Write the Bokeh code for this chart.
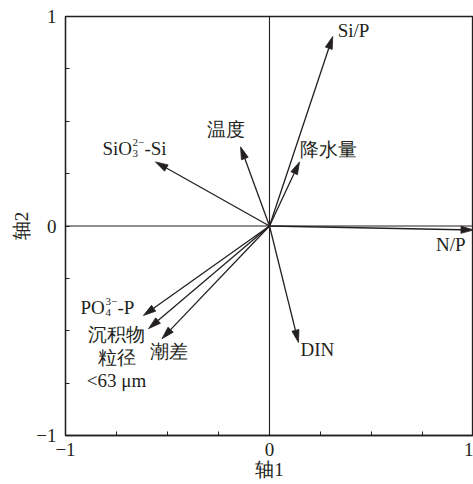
import math
from bokeh.plotting import figure
from bokeh.models import Range1d, FixedTicker, CustomJSTickFormatter, Span, ColumnDataSource
from bokeh.core.properties import value
from bokeh.embed import file_html
from bokeh.resources import INLINE

# ---------------- data ----------------
variables = ["Si/P", "降水量", "温度", "SiO₃²⁻-Si", "N/P", "PO₄³⁻-P", "沉积物\n粒径\n<63 μm", "潮差", "DIN"]
axis1 = [0.31, 0.147, -0.142, -0.559, 1.0, -0.618, -0.593, -0.527, 0.142]
axis2 = [0.905, 0.306, 0.378, 0.306, -0.019, -0.427, -0.49, -0.538, -0.556]
major_ticks = [-1, 0, 1]
minor_ticks = [-0.75, -0.5, -0.25, 0.25, 0.5, 0.75]
x_title = "轴1"
y_title = "轴2"

# ---------------- style ----------------
INK = "#231f20"
FONT = "Liberation Serif"
FS = "19px"
W, H = 473, 484
BL, BR, BT, BB = 65, 0, 16, 49
PX_X = (W - BL - BR) / 2.0
PX_Y = (H - BT - BB) / 2.0
HEAD_L, HEAD_W = 12.5, 3.6

# label placement (pixel offsets from arrow tip, screen y down)
label_style = [
    (5, -6, "left"),     # Si/P
    (1, -12, "left"),    # 降水量
    (-15, -17, "center"),  # 温度
    (-53, -13, "left"),  # SiO3
    (-8, 15, "right"),   # N/P
    (-63, -8, "left"),   # PO4
    (-32, 6, "center"),  # 沉积物粒径
    (-12, 13, "left"),   # 潮差
    (2, 7, "left"),      # DIN
]
LINE_GAP = 23
# stacked super/subscript pieces: (text, dx, dy, size)
composite = {
    "SiO₃²⁻-Si": [("SiO", 0, 0, FS), ("2−", 30, -6, "11px"), ("3", 30, 5, "11px"), ("-Si", 42, 0, FS)],
    "PO₄³⁻-P": [("PO", 0, 0, FS), ("3−", 25, -6, "11px"), ("4", 25, 5, "11px"), ("-P", 37, 0, FS)],
}

p = figure(width=W, height=H, x_range=Range1d(-1, 1), y_range=Range1d(-1, 1),
           output_backend="svg", toolbar_location=None,
           min_border_left=BL, min_border_right=BR, min_border_top=BT, min_border_bottom=BB,
           background_fill_color="white", border_fill_color="white",
           outline_line_color=INK, outline_line_width=1.3)
p.grid.visible = False

fmt = CustomJSTickFormatter(code="return tick < 0 ? '\u2212' + Math.abs(tick) : String(tick);")
for ax in (p.xaxis[0], p.yaxis[0]):
    ax.ticker = FixedTicker(ticks=major_ticks, minor_ticks=minor_ticks)
    ax.formatter = fmt
    ax.axis_line_color = INK
    ax.axis_line_width = 1.3
    ax.major_tick_in = 4
    ax.major_tick_out = 0
    ax.minor_tick_in = 4
    ax.minor_tick_out = 0
    ax.major_tick_line_color = INK
    ax.minor_tick_line_color = INK
    ax.major_label_text_font = FONT
    ax.major_label_text_font_size = FS
    ax.major_label_text_color = INK
    ax.axis_label_text_font = FONT
    ax.axis_label_text_font_size = FS
    ax.axis_label_text_font_style = "normal"
    ax.axis_label_text_color = INK
p.xaxis[0].axis_label = x_title
p.yaxis[0].axis_label = y_title
p.xaxis[0].major_label_standoff = 7
p.yaxis[0].major_label_standoff = 9
p.xaxis[0].axis_label_standoff = 0
p.yaxis[0].axis_label_standoff = 1

# zero lines
p.add_layout(Span(location=0, dimension="height", line_color=INK, line_width=1.1))
p.add_layout(Span(location=0, dimension="width", line_color=INK, line_width=1.1))

# arrows
x0s, y0s, x1s, y1s, hx, hy = [], [], [], [], [], []
for x, y in zip(axis1, axis2):
    vx, vy = x * PX_X, y * PX_Y
    n = math.hypot(vx, vy)
    ux, uy = vx / n, vy / n
    bx, by = vx - HEAD_L * ux, vy - HEAD_L * uy
    qx, qy = -uy, ux
    x0s.append(0); y0s.append(0)
    x1s.append(bx / PX_X); y1s.append(by / PX_Y)
    hx.append([x, (bx + HEAD_W * qx) / PX_X, (bx - HEAD_W * qx) / PX_X])
    hy.append([y, (by + HEAD_W * qy) / PX_Y, (by - HEAD_W * qy) / PX_Y])
p.segment(x0s, y0s, x1s, y1s, line_color=INK, line_width=1.3)
p.patches(hx, hy, fill_color=INK, line_color=INK, line_width=0.8)

# labels
rows = {"left": dict(x=[], y=[], t=[], dx=[], dy=[], fs=[]),
        "center": dict(x=[], y=[], t=[], dx=[], dy=[], fs=[]),
        "right": dict(x=[], y=[], t=[], dx=[], dy=[], fs=[])}
for name, x, y, (dx, dy, al) in zip(variables, axis1, axis2, label_style):
    pieces = []
    if name in composite:
        pieces = [(t, dx + a, dy + b, s) for t, a, b, s in composite[name]]
    else:
        for i, line in enumerate(name.split("\n")):
            pieces.append((line, dx, dy + i * LINE_GAP, FS))
    for t, a, b, s in pieces:
        r = rows[al]
        r["x"].append(x); r["y"].append(y); r["t"].append(t)
        r["dx"].append(a); r["dy"].append(b); r["fs"].append(s)
for al, r in rows.items():
    if not r["x"]:
        continue
    src = ColumnDataSource(r)
    p.text(x="x", y="y", text="t", x_offset="dx", y_offset="dy", source=src,
           text_font=value(FONT), text_font_size="fs", text_color=INK,
           text_align=al, text_baseline="middle")

open("out.html", "w").write(file_html(p, INLINE))
